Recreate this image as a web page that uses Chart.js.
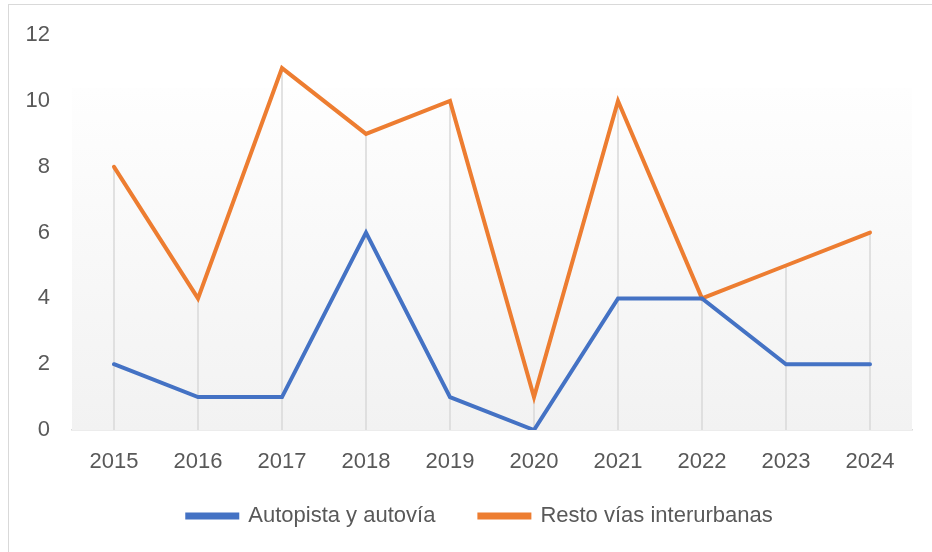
<!DOCTYPE html>
<html>
<head>
<meta charset="utf-8">
<script src="https://cdn.jsdelivr.net/npm/chart.js@4/dist/chart.umd.min.js"></script>
<style>
  html, body { margin: 0; padding: 0; background: #fff; overflow: hidden; }
  #frame {
    position: absolute; left: 8px; top: 4px; width: 960px; height: 600px;
    border-left: 1px solid #d9d9d9; border-top: 1px solid #d9d9d9;
  }
  #wrap { position: absolute; left: 0; top: 0; width: 932px; height: 552px; }
</style>
</head>
<body>
<div id="frame"></div>
<div id="wrap"><canvas id="chart" width="932" height="552"></canvas></div>
<script>
const years = ['2015', '2016', '2017', '2018', '2019', '2020', '2021', '2022', '2023', '2024'];
const autopista = [2, 1, 1, 6, 1, 0, 4, 4, 2, 2];
const restoVias = [8, 4, 11, 9, 10, 1, 10, 4, 5, 6];
const yTicks = [0, 2, 4, 6, 8, 10, 12];

const textColor = '#595959';
const fontFamily = '"Liberation Sans", Arial, sans-serif';

// soft grey gradient behind the plot, like the Excel plot area
const plotBackground = {
  id: 'plotBackground',
  beforeDatasetsDraw(chart) {
    const { ctx, chartArea: a } = chart;
    const top = a.top + (a.bottom - a.top) * 0.133;
    const g = ctx.createLinearGradient(0, top, 0, a.bottom);
    g.addColorStop(0, '#fefefe');
    g.addColorStop(1, '#f2f2f2');
    ctx.save();
    ctx.fillStyle = g;
    ctx.fillRect(a.left, top, a.right - a.left, a.bottom - top);
    ctx.restore();
  }
};

// drop lines from the highest point of each year down to the axis
const dropLines = {
  id: 'dropLines',
  beforeDatasetsDraw(chart) {
    const { ctx, scales: { x, y } } = chart;
    ctx.save();
    ctx.strokeStyle = '#d9d9d9';
    ctx.lineWidth = 1.5;
    years.forEach((yr, i) => {
      const top = Math.max(...chart.data.datasets.map(d => d.data[i]));
      const px = x.getPixelForValue(i);
      ctx.beginPath();
      ctx.moveTo(px, y.getPixelForValue(top));
      ctx.lineTo(px, y.getPixelForValue(0));
      ctx.stroke();
    });
    ctx.restore();
  }
};

// excel centres the legend under the plot area and sits it a bit higher
const legendShift = {
  id: 'legendShift',
  afterLayout(chart) {
    const lg = chart.legend;
    lg.left += 24;
    lg.right += 24;
    lg.top -= 15;
    lg.bottom -= 15;
  }
};

new Chart(document.getElementById('chart'), {
  type: 'line',
  data: {
    labels: years,
    datasets: [
      {
        label: 'Autopista y autovía',
        data: autopista,
        borderColor: '#4472c4',
        backgroundColor: '#4472c4',
        borderWidth: 4,
        borderCapStyle: 'round',
        pointRadius: 0,
        tension: 0
      },
      {
        label: 'Resto vías interurbanas',
        data: restoVias,
        borderColor: '#ed7d31',
        backgroundColor: '#ed7d31',
        borderWidth: 4,
        borderCapStyle: 'round',
        pointRadius: 0,
        tension: 0
      }
    ]
  },
  options: {
    responsive: false,
    animation: false,
    layout: { padding: { top: 32, left: 0, right: 20, bottom: 0 } },
    scales: {
      x: {
        offset: true,
        grid: { display: false, drawTicks: false, offset: false },
        border: { display: true, color: '#d9d9d9', width: 1.5 },
        ticks: { color: textColor, font: { family: fontFamily, size: 22 }, padding: 19, maxRotation: 0 },
        afterFit(scale) { scale.height = 46; }
      },
      y: {
        min: 0,
        max: 12,
        grid: { display: false, drawTicks: false },
        border: { display: false },
        afterBuildTicks(scale) { scale.ticks = yTicks.map(v => ({ value: v })); },
        ticks: { color: textColor, font: { family: fontFamily, size: 22 }, padding: 22 },
        afterFit(scale) { scale.width = 72; }
      }
    },
    plugins: {
      legend: {
        position: 'bottom',
        labels: {
          color: textColor,
          font: { family: fontFamily, size: 22 },
          boxWidth: 50,
          boxHeight: 3,
          padding: 44
        }
      },
      tooltip: { enabled: false }
    }
  },
  plugins: [plotBackground, dropLines, legendShift]
});
</script>
</body>
</html>
